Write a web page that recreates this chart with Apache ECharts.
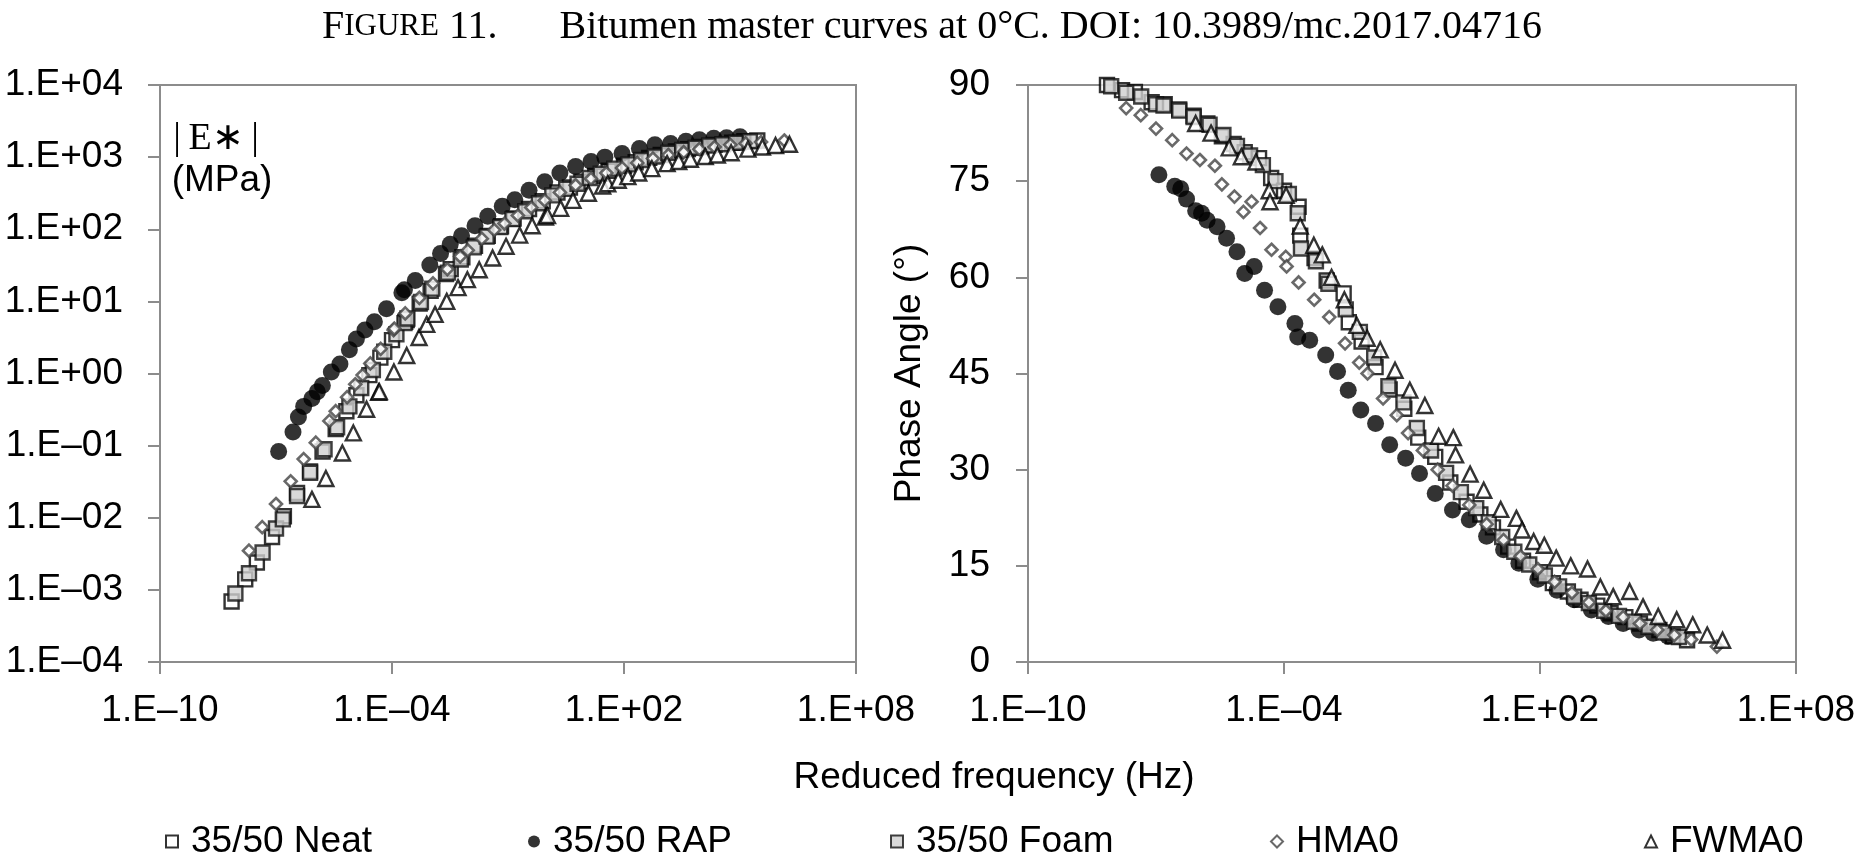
<!DOCTYPE html>
<html>
<head>
<meta charset="utf-8">
<title>Bitumen master curves</title>
<script src="https://cdn.jsdelivr.net/npm/echarts@6/dist/echarts.min.js"></script>
<style>
  html, body { margin: 0; padding: 0; background: #fff; }
  #chart { width: 1864px; height: 863px; }
</style>
</head>
<body>
<div id="chart"></div>
<script>
// tick positions on the log axes
let freqTicks = [1e-10, 1e-4, 1e2, 1e8]
let modulusTicks = [1e-4, 1e-3, 1e-2, 1e-1, 1, 10, 100, 1000, 10000]

// 35/50 Neat : reduced frequency (Hz), |E*| (MPa), phase angle (deg)
let neatFreq = [7.1e-9, 1.6e-8, 3.2e-8, 7.9e-8, 1.6e-7, 3.5e-7, 7.6e-7, 1.6e-6, 3.5e-6, 6.6e-6,
    1.2e-5, 2.6e-5, 5.0e-5, 1.0e-4, 2.2e-4, 2.4e-4, 5.2e-4, 1.0e-3, 2.5e-3, 3.3e-3,
    6.6e-3, 1.4e-2, 3.0e-2, 6.6e-2, 0.14, 0.35, 0.79, 1.9, 4.0, 7.9,
    18, 40, 100, 200, 450, 890, 2200, 4500, 1.0e4, 2.2e4,
    6.3e4, 1.3e5, 2.8e5]
let neatModulus = [6.9e-4, 1.4e-3, 2.4e-3, 5.4e-3, 1.05e-2, 2.2e-2, 4.4e-2, 8.3e-2, 0.17, 0.30,
    0.50, 0.95, 1.66, 2.9, 5.2, 5.5, 9.3, 14, 24, 28,
    41, 59, 81, 110, 141, 191, 245, 324, 380, 457,
    550, 646, 759, 851, 977, 1070, 1200, 1290, 1380, 1480,
    1580, 1660, 1700]
let neatPhase = [90.0, 89.2, 88.9, 87.3, 87.0, 86.2, 85.2, 84.0, 82.0, 80.8,
    79.5, 78.6, 75.5, 73.5, 71.0, 66.5, 63.0, 59.5, 57.5, 53.0,
    50.0, 46.0, 42.5, 39.5, 35.0, 32.0, 28.0, 25.0, 23.0, 21.0,
    18.0, 15.8, 14.0, 12.3, 11.0, 9.7, 8.8, 7.6, 7.0, 6.0,
    5.0, 4.0, 3.4]

// 35/50 RAP
let rapFreq = [1.17e-7, 2.75e-7, 3.8e-7, 5.2e-7, 8.5e-7, 1.17e-6, 1.58e-6, 2.7e-6, 4.5e-6, 7.9e-6,
    1.2e-5, 2.0e-5, 3.5e-5, 7.2e-5, 1.8e-4, 2.1e-4, 4.0e-4, 9.5e-4, 1.8e-3, 3.2e-3,
    6.3e-3, 1.4e-2, 3.0e-2, 7.1e-2, 0.15, 0.35, 0.89, 2.2, 5.6, 14,
    32, 89, 250, 630, 1600, 4000, 8900, 2.1e4, 4.5e4, 1.0e5]
let rapModulus = [8.3e-2, 0.155, 0.25, 0.35, 0.45, 0.56, 0.68, 1.05, 1.35, 2.14,
    3.0, 4.0, 5.2, 7.9, 13.2, 14.5, 19.5, 32, 46, 62,
    81, 112, 151, 209, 257, 347, 457, 603, 741, 871,
    1000, 1120, 1320, 1480, 1550, 1660, 1740, 1820, 1860, 1910]
let rapPhase = [76.0, 74.2, 73.8, 72.2, 70.4, 70.0, 68.9, 67.9, 66.1, 64.0,
    60.6, 61.7, 58.0, 55.4, 52.8, 50.7, 50.2, 47.9, 45.3, 42.4,
    39.3, 37.2, 33.9, 31.8, 29.4, 26.3, 23.7, 22.2, 19.6, 17.5,
    15.4, 12.9, 11.2, 9.7, 8.1, 7.1, 6.0, 5.0, 4.5, 4.0]

// 35/50 Foam
let foamFreq = [8.9e-9, 2.0e-8, 4.5e-8, 1.0e-7, 1.5e-7, 3.5e-7, 7.6e-7, 1.8e-6, 3.8e-6, 7.9e-6,
    1.6e-5, 3.2e-5, 6.3e-5, 1.3e-4, 2.1e-4, 2.5e-4, 5.6e-4, 1.1e-3, 2.8e-3, 6.0e-3,
    1.3e-2, 2.8e-2, 6.3e-2, 0.13, 0.28, 0.63, 1.4, 3.2, 6.3, 13,
    25, 56, 130, 280, 630, 1400, 3200, 7100, 1.6e4, 3.5e4,
    7.9e4, 1.8e5]
let foamModulus = [8.9e-4, 1.7e-3, 3.3e-3, 7.1e-3, 9.5e-3, 2.0e-2, 4.2e-2, 8.9e-2, 0.18, 0.35,
    0.63, 1.12, 2.0, 3.5, 5.0, 5.8, 9.8, 15, 25, 38,
    56, 79, 107, 138, 178, 229, 295, 363, 427, 513,
    589, 692, 794, 912, 1020, 1150, 1260, 1350, 1450, 1510,
    1580, 1660]
let foamPhase = [89.8, 88.8, 88.2, 87.0, 86.8, 86.0, 85.0, 83.8, 82.2, 80.5,
    79.0, 77.5, 75.0, 73.0, 70.0, 64.5, 62.5, 59.0, 55.0, 51.5,
    47.5, 43.0, 40.5, 36.5, 33.0, 29.5, 26.5, 24.0, 21.8, 19.5,
    17.2, 15.2, 13.5, 11.8, 10.2, 9.2, 8.0, 7.2, 6.3, 5.5,
    4.6, 3.9]

// HMA0
let hmaFreq = [2.0e-8, 4.4e-8, 1.0e-7, 2.4e-7, 5.2e-7, 1.07e-6, 2.4e-6, 3.5e-6, 6.9e-6, 1.12e-5,
    1.74e-5, 2.75e-5, 5.1e-5, 1.1e-4, 1.15e-4, 2.2e-4, 5.1e-4, 1.15e-3, 2.7e-3, 5.8e-3,
    9.1e-3, 2.1e-2, 4.4e-2, 8.1e-2, 0.18, 0.40, 0.89, 2.2, 5.6, 14,
    35, 89, 220, 560, 1400, 3500, 8900, 2.2e4, 5.6e4, 1.4e5,
    3.5e5, 1.4e6]
let hmaModulus = [3.5e-3, 7.4e-3, 1.55e-2, 3.2e-2, 6.5e-2, 0.11, 0.22, 0.30, 0.47, 0.71,
    0.95, 1.38, 2.2, 4.0, 4.2, 6.8, 11.2, 17.8, 28, 42,
    51, 74, 98, 120, 155, 200, 251, 324, 407, 501,
    603, 708, 832, 955, 1070, 1170, 1290, 1380, 1480, 1550,
    1620, 1700]
let hmaPhase = [86.4, 85.3, 83.2, 81.4, 79.3, 78.3, 77.4, 74.5, 72.6, 70.2,
    71.8, 67.7, 64.3, 63.2, 61.7, 59.2, 56.5, 53.8, 49.7, 46.7,
    45.0, 41.1, 38.5, 35.7, 33.0, 30.0, 27.5, 24.5, 21.5, 19.0,
    16.5, 14.5, 12.5, 10.8, 9.3, 8.0, 7.0, 6.0, 5.0, 4.2,
    3.5, 2.4]

// FWMA0
let fwmaFreq = [8.5e-7, 1.95e-6, 5.2e-6, 1.0e-5, 2.2e-5, 4.5e-5, 4.7e-5, 1.12e-4, 2.4e-4, 5.0e-4,
    7.9e-4, 1.3e-3, 2.6e-3, 5.1e-3, 8.9e-3, 1.8e-2, 4.0e-2, 8.9e-2, 0.20, 0.42,
    0.93, 1.05, 2.3, 4.8, 12, 28, 38, 71, 126, 240,
    525, 1300, 2600, 5200, 1.26e4, 2.6e4, 5.9e4, 1.6e5, 3.8e5, 8.3e5,
    1.9e6]
let fwmaModulus = [1.8e-2, 3.5e-2, 7.9e-2, 0.15, 0.32, 0.55, 0.56, 1.05, 1.78, 3.16,
    4.8, 6.6, 10, 15.5, 20, 27.5, 40, 58, 83, 112,
    148, 155, 195, 251, 316, 398, 427, 479, 537, 603,
    692, 813, 871, 933, 1020, 1070, 1150, 1290, 1380, 1450,
    1510]
let fwmaPhase = [84.0, 82.5, 80.2, 78.8, 78.0, 73.5, 71.8, 72.8, 68.0, 65.0,
    63.5, 60.0, 56.5, 52.5, 50.5, 48.7, 45.5, 42.4, 40.0, 35.2,
    35.0, 32.3, 29.3, 26.8, 23.8, 22.4, 20.6, 18.8, 18.2, 16.2,
    15.0, 14.5, 11.7, 10.2, 11.0, 8.6, 7.1, 6.6, 5.8, 4.2,
    3.4]

let axisGray = '#8c8c8c'
let sansFont = '"Liberation Sans", Arial, sans-serif'
let serifFont = '"Liberation Serif", "Times New Roman", serif'

// pair up x and y arrays for scatter
function pairs(xs, ys) {
    let out = []
    for (var i = 0; i < xs.length; i++) {
        out.push([xs[i], ys[i]])
    }
    return out
}

// 1e-4 -> "1.E–04"
function sciLabel(v) {
    let e = Math.round(Math.log10(v))
    let a = Math.abs(e)
    return '1.E' + (e < 0 ? '–' : '+') + (a < 10 ? '0' + a : a)
}

// marker look of each material
let materials = [
    { name: '35/50 Neat', freq: neatFreq, modulus: neatModulus, phase: neatPhase,
      symbol: 'rect', size: 14, style: { color: '#fff', borderColor: '#000', borderWidth: 2.4 } },
    { name: '35/50 RAP', freq: rapFreq, modulus: rapModulus, phase: rapPhase,
      symbol: 'circle', size: 17, style: { color: '#000', borderColor: '#000', borderWidth: 0 } },
    { name: '35/50 Foam', freq: foamFreq, modulus: foamModulus, phase: foamPhase,
      symbol: 'rect', size: 14, style: { color: '#cfcfcf', borderColor: '#111', borderWidth: 2.4 } },
    { name: 'HMA0', freq: hmaFreq, modulus: hmaModulus, phase: hmaPhase,
      symbol: 'diamond', size: 12, style: { color: '#fff', borderColor: '#444', borderWidth: 2.6 } },
    { name: 'FWMA0', freq: fwmaFreq, modulus: fwmaModulus, phase: fwmaPhase,
      symbol: 'triangle', size: 15, style: { color: '#fff', borderColor: '#000', borderWidth: 2.4 } }
]

let series = []
materials.forEach(function(m) {
    series.push({
        name: m.name, type: 'scatter', xAxisIndex: 0, yAxisIndex: 0,
        symbol: m.symbol, symbolSize: m.size, itemStyle: m.style,
        data: pairs(m.freq, m.modulus)
    })
    series.push({
        name: m.name, type: 'scatter', xAxisIndex: 1, yAxisIndex: 1,
        symbol: m.symbol, symbolSize: m.size, itemStyle: m.style,
        data: pairs(m.freq, m.phase)
    })
})

// one legend per entry so each can sit where the original puts it
let legendLeft = [160, 523, 885, 1265, 1639]
let legends = materials.map(function(m, i) {
    return {
        data: [m.name], left: legendLeft[i], top: 818,
        itemWidth: 12, itemHeight: 12, selectedMode: false,
        textStyle: { fontFamily: sansFont, fontSize: 37, color: '#000', padding: [0, 0, 0, 8] }
    }
})

function logXAxis(gridIndex) {
    return {
        type: 'log', logBase: 10, gridIndex: gridIndex, min: 1e-10, max: 1e8,
        axisLine: { lineStyle: { color: axisGray, width: 2 } },
        axisTick: { show: true, inside: false, length: 12, customValues: freqTicks,
            lineStyle: { color: axisGray, width: 2 } },
        axisLabel: { customValues: freqTicks, formatter: sciLabel, margin: 30,
            fontFamily: sansFont, fontSize: 37, color: '#000' },
        splitLine: { show: false },
        minorTick: { show: false }
    }
}

let option = {
    animation: false,
    backgroundColor: '#fff',
    title: {
        left: 'center', top: 2,
        text: '{big|F}{sc|IGURE}{big| 11.}{gap|}{big|Bitumen master curves at 0°C. DOI: 10.3989/mc.2017.04716}',
        textStyle: {
            fontWeight: 'normal',
            rich: {
                big: { fontFamily: serifFont, fontSize: 40, fontWeight: 'normal', color: '#000' },
                sc: { fontFamily: serifFont, fontSize: 31, fontWeight: 'normal', color: '#000' },
                gap: { width: 62 }
            }
        }
    },
    legend: legends,
    grid: [
        { left: 160, top: 85, width: 696, height: 577, show: true, borderColor: axisGray, borderWidth: 2 },
        { left: 1028, top: 85, width: 768, height: 577, show: true, borderColor: axisGray, borderWidth: 2 }
    ],
    xAxis: [logXAxis(0), logXAxis(1)],
    yAxis: [
        {
            type: 'log', logBase: 10, gridIndex: 0, min: 1e-4, max: 1e4,
            axisLine: { show: true, lineStyle: { color: axisGray, width: 2 } },
            axisTick: { show: true, inside: false, length: 12, customValues: modulusTicks,
                lineStyle: { color: axisGray, width: 2 } },
            axisLabel: { customValues: modulusTicks, formatter: sciLabel, margin: 37,
                fontFamily: sansFont, fontSize: 37, color: '#000' },
            splitLine: { show: false },
            minorTick: { show: false }
        },
        {
            type: 'value', gridIndex: 1, min: 0, max: 90, interval: 15,
            name: 'Phase Angle (°)', nameLocation: 'middle', nameRotate: 90, nameGap: 100,
            nameTextStyle: { fontFamily: sansFont, fontSize: 37, color: '#000' },
            axisLine: { show: true, lineStyle: { color: axisGray, width: 2 } },
            axisTick: { show: true, inside: false, length: 12, lineStyle: { color: axisGray, width: 2 } },
            axisLabel: { margin: 38, fontFamily: sansFont, fontSize: 37, color: '#000' },
            splitLine: { show: false }
        }
    ],
    graphic: [
        { type: 'text', x: 216, y: 139,
          style: { text: '|\u2009E∗\u2009|', font: '38px ' + serifFont, fill: '#000',
                   textAlign: 'center', textVerticalAlign: 'middle' } },
        { type: 'text', x: 222, y: 181,
          style: { text: '(MPa)', font: '37px ' + sansFont, fill: '#000',
                   textAlign: 'center', textVerticalAlign: 'middle' } },
        { type: 'text', x: 994, y: 778,
          style: { text: 'Reduced frequency (Hz)', font: '37px ' + sansFont, fill: '#000',
                   textAlign: 'center', textVerticalAlign: 'middle' } }
    ],
    series: series
}

let chart = echarts.init(document.getElementById('chart'))
chart.setOption(option)
</script>
</body>
</html>
